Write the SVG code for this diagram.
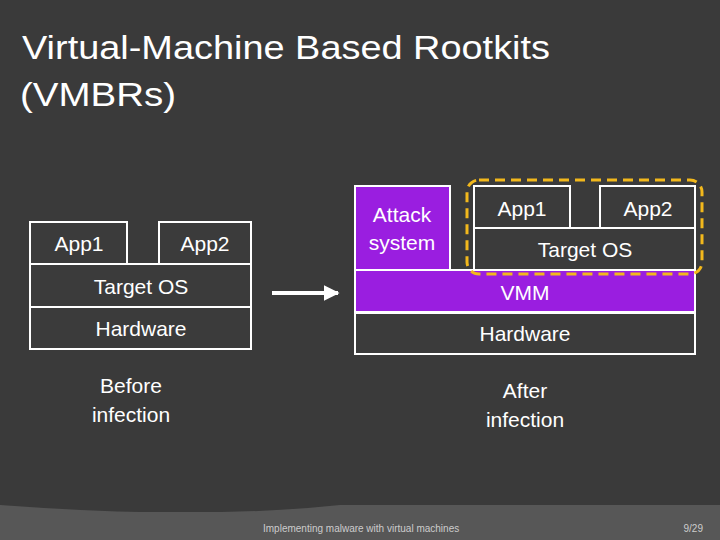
<svg xmlns="http://www.w3.org/2000/svg" width="720" height="540" viewBox="0 0 720 540">
<defs>
<style>
text{font-family:"Liberation Sans",Arial,sans-serif;fill:#fff}
.b{fill:#3b3b3b;stroke:#fff;stroke-width:2}
.p{fill:#9a1ee0;stroke:#fff;stroke-width:2}
.t{font-size:21px;text-anchor:middle}
</style>
<marker id="ah" viewBox="0 0 10 10" refX="9" refY="5" markerWidth="4" markerHeight="4" orient="auto"><path d="M0,0L10,5L0,10z" fill="#fff"/></marker>
</defs>
<rect width="720" height="540" fill="#3a3a3a"/>
<path d="M0,505 Q200,520 340,505 L720,505 L720,540 L0,540Z" fill="#575757"/>
<rect x="0" y="512" width="720" height="28" fill="#575757"/>
<text x="22" y="59" font-size="33" textLength="528" lengthAdjust="spacingAndGlyphs">Virtual-Machine Based Rootkits</text>
<text x="20" y="106" font-size="33" textLength="156" lengthAdjust="spacingAndGlyphs">(VMBRs)</text>
<g id="before">
<g id="l-app1"><rect class="b" x="30" y="222" width="97" height="42"/><text class="t" x="79" y="251">App1</text></g>
<g id="l-app2"><rect class="b" x="159" y="222" width="92" height="42"/><text class="t" x="205" y="251">App2</text></g>
<g id="l-os"><rect class="b" x="30" y="264" width="221" height="43"/><text class="t" x="141" y="294">Target OS</text></g>
<g id="l-hw"><rect class="b" x="30" y="307" width="221" height="42"/><text class="t" x="141" y="336">Hardware</text></g>
<text class="t" x="131" y="393">Before</text><text class="t" x="131" y="422">infection</text>
</g>
<g id="connectors"><line x1="272" y1="293" x2="338" y2="293" stroke="#fff" stroke-width="4" marker-end="url(#ah)"/></g>
<g id="after">
<g id="attack"><rect class="p" x="355" y="186" width="95" height="84"/><text class="t" x="402" y="222" fill="#fde">Attack</text><text class="t" x="402" y="250">system</text></g>
<g id="r-app1"><rect class="b" x="474" y="186" width="96" height="42"/><text class="t" x="522" y="216">App1</text></g>
<g id="r-app2"><rect class="b" x="600" y="186" width="95" height="42"/><text class="t" x="648" y="216">App2</text></g>
<g id="r-os"><rect class="b" x="474" y="228" width="221" height="42"/><text class="t" x="585" y="257">Target OS</text></g>
<g id="vmm"><rect class="p" x="355" y="270" width="340" height="42"/><text class="t" x="525" y="300">VMM</text></g>
<g id="r-hw"><rect class="b" x="355" y="313" width="340" height="41"/><text class="t" x="525" y="341">Hardware</text></g>
<rect x="467" y="180" width="235" height="94" rx="12" fill="none" stroke="#f2b81c" stroke-width="3" stroke-dasharray="10,6"/>
<text class="t" x="525" y="398">After</text><text class="t" x="525" y="427">infection</text>
</g>
<text x="263" y="532" font-size="10" style="fill:#ccc">Implementing malware with virtual machines</text>
<text x="703" y="532" font-size="10" text-anchor="end" style="fill:#ccc">9/29</text>
</svg>
